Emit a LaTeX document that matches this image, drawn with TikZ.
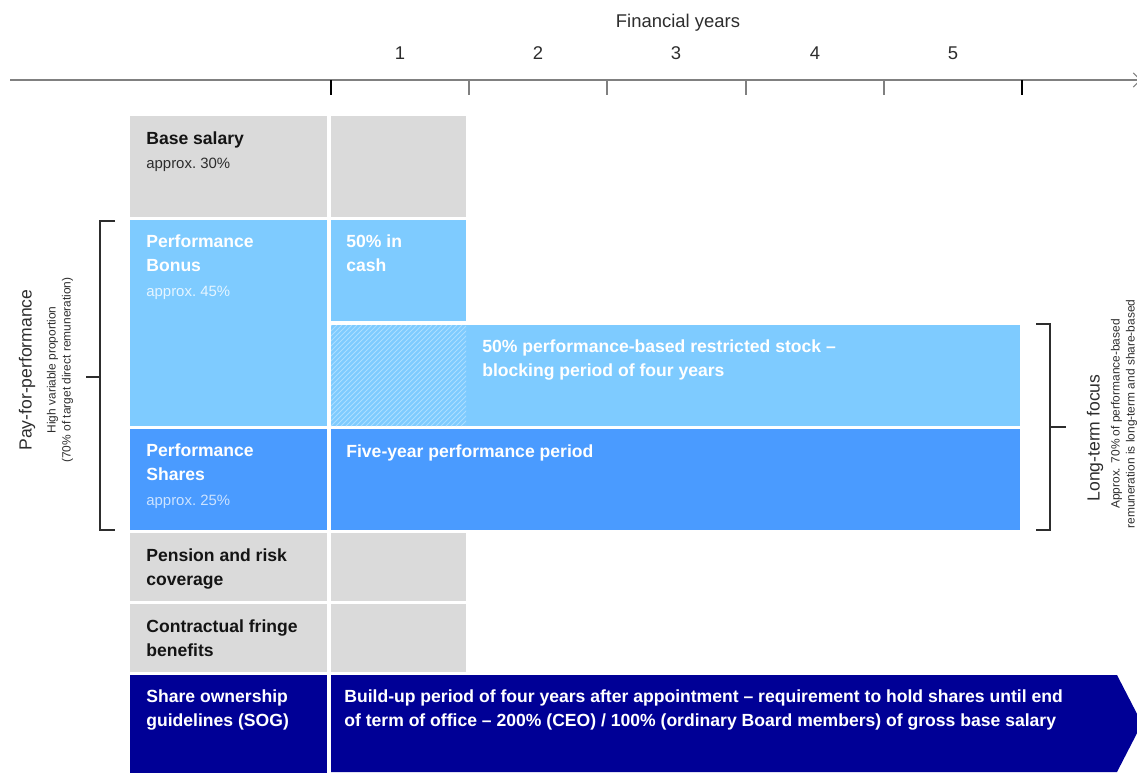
\documentclass[tikz,border=0pt]{standalone}
\usepackage{fontspec}
\setmainfont{Liberation Sans}
\usetikzlibrary{arrows.meta}

\definecolor{boxgray}{RGB}{218,218,218}
\definecolor{bonusblue}{RGB}{126,203,255}
\definecolor{sharesblue}{RGB}{74,155,255}
\definecolor{sognavy}{RGB}{0,0,150}
\definecolor{axisgray}{RGB}{128,128,128}
\definecolor{hatchblue}{RGB}{172,222,255}
\definecolor{inkgray}{RGB}{45,45,45}

\begin{document}
\begin{tikzpicture}[x=0.02cm, y=-0.02cm,
    boxtext/.style={anchor=north west, inner sep=0, align=left, font=\fontsize{10}{13.7}\selectfont\bfseries,
      execute at begin node={\rule{0pt}{7.5pt}}},
    graytext/.style={boxtext, text=black!92},
    bluetext/.style={boxtext, text=white},
    yearlabel/.style={font=\fontsize{10.5}{12}\selectfont, text=inkgray},
    sidetitle/.style={rotate=90, font=\fontsize{10}{12}\selectfont, text=inkgray},
    sidenote/.style={rotate=90, align=center, font=\fontsize{6.8}{8.6}\selectfont, text=inkgray},
    bracket/.style={draw=inkgray, line width=0.7pt}]
    \useasboundingbox (0,0) rectangle (1137,772);
    \clip (0,0) rectangle (1137,772);

    % Time axis
    \draw[axisgray, line width=1.2pt, -{Straight Barb[length=4pt,width=8pt,line width=0.6pt]}] (10,80) -- (1141,80);
    \foreach \x in {331,1022}
      \draw[black, line width=1.2pt] (\x,80) -- (\x,95);
    \foreach \x in {469,607,746,884}
      \draw[axisgray, line width=0.6pt] (\x,80) -- (\x,95);
    \foreach \n/\x in {1/400,2/538,3/676,4/815,5/953}
      \node[yearlabel] (year\n) at (\x,53) {\n};
    \node[yearlabel] (fyears) at (678,23) {Financial years};

    % Boxes
    \fill[boxgray] (130,116) rectangle (327,217);
    \fill[boxgray] (331,116) rectangle (466,217);
    \fill[bonusblue] (130,220) rectangle (327,426);
    \fill[bonusblue] (331,220) rectangle (466,321);
    \fill[bonusblue] (331,325) rectangle (1020,426);
    \begin{scope}
      \clip (331,325) rectangle (466,426);
      \foreach \x in {226,231,...,466}
        \draw[hatchblue, line width=0.5pt] (\x,426) -- ++(101,-101);
    \end{scope}
    \fill[sharesblue] (130,429) rectangle (327,530);
    \fill[sharesblue] (331,429) rectangle (1020,530);
    \fill[boxgray] (130,533) rectangle (327,601);
    \fill[boxgray] (331,533) rectangle (466,601);
    \fill[boxgray] (130,604) rectangle (327,672);
    \fill[boxgray] (331,604) rectangle (466,672);
    \fill[sognavy] (130,675) rectangle (327,790);
    \fill[sognavy] (331,675) -- (1117,675) -- (1142,723.5) -- (1117,772) -- (331,772) -- cycle;

    % Texts (top = first baseline - 13.2)
    \node[graytext] (base) at (146,131.8) {Base salary\\{\color{inkgray}\fontsize{8.5}{13.7}\selectfont\mdseries approx.~30\%}};
    \node[bluetext] (bonus) at (146,234.8) {Performance\\Bonus\\{\color{white!80!bonusblue}\fontsize{8.5}{13.7}\selectfont\mdseries approx.~45\%}};
    \node[bluetext] (cash) at (346,234.8) {50\% in\\cash};
    \node[bluetext] (stock) at (482,339.8) {50\% performance-based restricted stock --\\blocking period of four years};
    \node[bluetext] (fiveyear) at (346,443.8) {Five-year performance period};
    \node[bluetext] (shares) at (146,443.8) {Performance\\Shares\\{\color{white!72!sharesblue}\fontsize{8.5}{13.7}\selectfont\mdseries approx.~25\%}};
    \node[graytext] (pension) at (146,548.8) {Pension and risk\\coverage};
    \node[graytext] (fringe) at (146,619.8) {Contractual fringe\\benefits};
    \node[bluetext] (sog) at (146,689.8) {Share ownership\\guidelines (SOG)};
    \node[bluetext] (buildup) at (344,689.8) {Build-up period of four years after appointment -- requirement to hold shares until end\\of term of office -- 200\% (CEO) / 100\% (ordinary Board members) of gross base salary};

    % Brackets
    \draw[bracket] (115,221) -- (100,221) -- (100,530) -- (115,530);
    \draw[bracket] (86,377) -- (100,377);
    \node[sidetitle] (payperf) at (27,370) {Pay-for-performance};
    \node[sidenote] (variable) at (60,370) {High variable proportion\\(70\% of target direct remuneration)};

    \draw[bracket] (1036,324) -- (1050,324) -- (1050,530) -- (1036,530);
    \draw[bracket] (1050,427) -- (1066,427);
    \node[sidetitle] (longterm) at (1095,438) {Long-term focus};
    \node[sidenote] (sharebased) at (1124,414) {Approx. 70\% of performance-based\\remuneration is long-term and share-based};
  \end{tikzpicture}
\end{document}
